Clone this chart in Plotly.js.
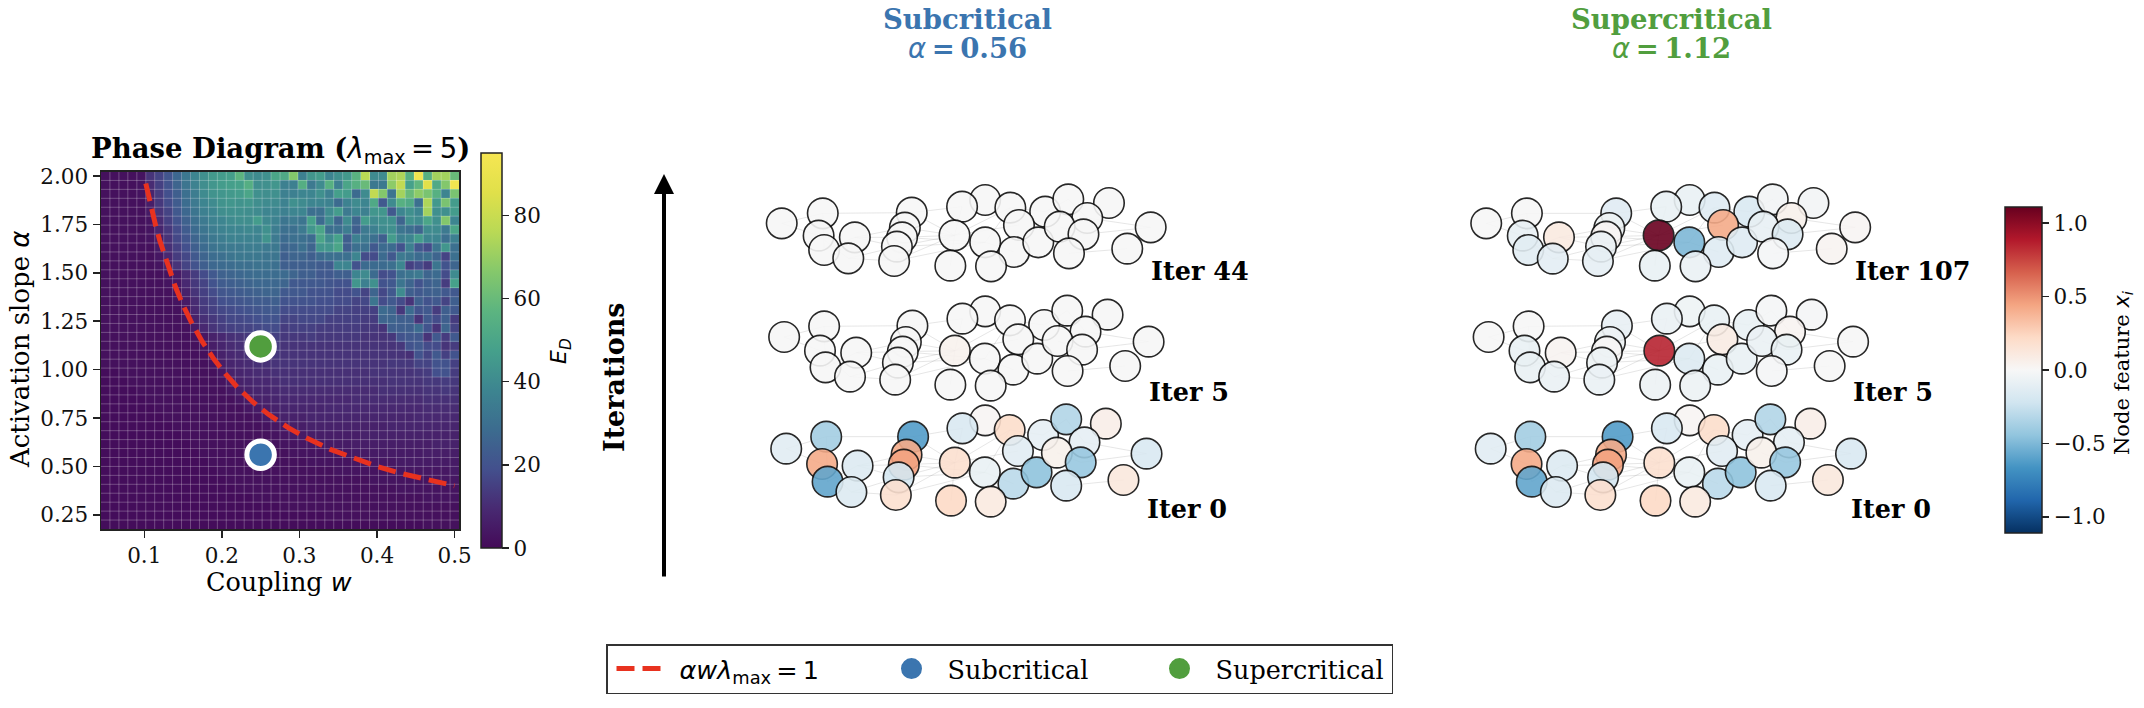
<!DOCTYPE html>
<html><head><meta charset="utf-8">
<script src="https://cdn.plot.ly/plotly-3.0.1.min.js"></script>
<style>html,body{margin:0;padding:0;background:#fff}</style>
</head><body><div id="chart" style="width:2144px;height:708px"></div>
<script>
const couplingW=[0.0500,0.0615,0.0731,0.0846,0.0962,0.1077,0.1192,0.1308,0.1423,0.1538,0.1654,0.1769,0.1885,0.2000,0.2115,0.2231,0.2346,0.2462,0.2577,0.2692,0.2808,0.2923,0.3038,0.3154,0.3269,0.3385,0.3500,0.3615,0.3731,0.3846,0.3962,0.4077,0.4192,0.4308,0.4423,0.4538,0.4654,0.4769,0.4885,0.5000];
const slopeAlpha=[2.0000,1.9538,1.9077,1.8615,1.8154,1.7692,1.7231,1.6769,1.6308,1.5846,1.5385,1.4923,1.4462,1.4000,1.3538,1.3077,1.2615,1.2154,1.1692,1.1231,1.0769,1.0308,0.9846,0.9385,0.8923,0.8462,0.8000,0.7538,0.7077,0.6615,0.6154,0.5692,0.5231,0.4769,0.4308,0.3846,0.3385,0.2923,0.2462,0.2000];
const energy=[
[2,2,2,2,3,12,16,21,27,33,38,42,45,46,47,57,42,40,42,50,52,66,36,44,46,38,42,45,56,76,40,40,72,74,55,93,55,72,72,60],
[2,2,2,2,3,10,15,20,26,32,37,41,44,46,47,48,54,41,42,44,36,36,54,34,40,55,36,50,55,60,33,33,68,78,48,58,86,52,66,93],
[2,2,2,2,3,8,14,19,24,30,35,40,43,44,45,46,50,42,41,42,36,36,38,38,42,36,47,46,28,40,78,66,32,72,60,68,64,55,38,64],
[2,2,2,2,2,6,13,18,23,29,34,38,40,43,44,43,44,41,40,40,37,42,40,38,38,37,28,37,40,38,52,22,40,55,52,30,74,45,64,46],
[2,2,2,2,2,5,12,16,22,27,32,36,38,41,42,42,41,40,38,38,36,38,38,30,30,40,46,34,38,36,44,44,22,38,42,38,72,42,42,46],
[2,2,2,2,2,3,10,15,20,25,30,34,37,38,40,41,41,46,39,37,32,34,32,48,28,40,26,40,26,46,40,42,42,26,42,40,50,42,66,38],
[2,2,2,2,2,3,8,13,18,23,28,32,35,37,38,38,39,38,42,35,30,30,34,44,50,30,30,35,24,34,36,40,42,32,30,26,40,40,34,50],
[2,2,2,2,2,3,6,12,17,21,26,30,33,35,37,37,37,37,43,34,28,30,30,28,50,40,48,24,36,34,30,24,46,36,38,46,38,38,30,36],
[2,2,2,2,2,2,5,11,15,19,24,28,31,33,34,34,35,35,34,33,26,27,30,26,44,44,50,24,30,30,22,28,28,20,36,22,18,32,44,30],
[2,2,2,2,2,2,4,9,14,17,22,26,29,30,32,33,33,33,32,32,24,26,26,24,28,30,30,30,38,18,18,28,22,34,32,28,30,26,16,30],
[2,2,2,2,2,2,3,7,12,16,20,24,27,28,29,30,30,31,31,30,24,24,24,24,23,23,38,38,20,28,28,28,30,38,15,18,14,32,20,26],
[2,2,2,2,2,2,2,3,5,10,14,18,22,25,26,27,28,29,29,29,28,26,24,24,22,22,24,24,38,40,28,18,20,30,32,34,26,28,18,40],
[2,2,2,2,2,2,2,3,4,9,13,16,20,23,24,25,26,27,27,27,26,22,22,22,22,21,20,20,44,36,42,20,22,32,26,20,24,26,14,48],
[2,2,2,2,2,2,2,2,3,7,12,15,18,21,22,23,24,25,26,26,22,22,22,20,20,20,18,18,20,16,26,17,22,40,24,22,24,25,22,22],
[2,2,2,2,2,2,2,2,3,5,10,14,16,19,20,21,22,23,23,24,20,20,20,20,19,19,18,18,16,17,32,18,22,18,12,24,20,22,16,24],
[2,2,2,2,2,2,2,2,2,4,9,13,15,17,18,19,20,21,22,22,18,18,18,18,18,18,16,16,15,15,15,28,26,13,28,20,22,14,24,22],
[2,2,2,2,2,2,2,2,2,3,7,11,13,15,17,17,18,19,20,20,16,16,17,17,17,15,15,15,15,14,14,26,26,24,24,12,22,18,24,14],
[2,2,2,2,2,2,2,2,2,2,5,9,12,14,15,16,16,17,18,18,14,15,15,15,14,14,14,14,14,13,13,12,24,24,24,28,20,12,26,16],
[2,2,2,2,2,2,2,2,2,2,2,4,7,9,11,12,13,14,14,15,13,13,13,14,13,13,13,13,13,12,12,12,13,20,22,22,12,22,14,22],
[2,2,2,2,2,2,2,2,2,2,2,3,6,8,10,11,12,13,13,14,12,12,12,12,12,12,12,12,12,12,12,12,12,13,20,22,18,18,12,14],
[2,2,2,2,2,2,2,2,2,2,2,2,4,7,9,10,11,12,12,13,12,12,12,12,12,12,12,12,12,12,12,12,12,12,11,20,16,22,15,20],
[2,2,2,2,2,2,2,2,2,2,2,2,3,6,8,9,10,11,11,12,12,12,12,12,12,12,12,12,12,12,12,12,13,13,13,16,16,20,20,15],
[1,1,2,2,2,2,2,2,2,2,2,2,2,4,7,8,9,10,10,11,11,11,11,11,11,11,11,11,11,11,12,12,12,12,12,13,14,19,20,14],
[1,1,1,2,2,2,2,2,2,2,2,2,2,3,5,7,8,9,9,10,11,11,11,11,11,11,11,11,11,11,11,11,12,12,12,12,13,13,14,13],
[1,1,1,1,2,2,2,2,2,2,2,2,2,2,4,6,7,8,8,9,10,10,10,10,10,10,10,10,10,10,10,11,11,11,11,11,12,12,13,12],
[1,1,1,1,1,2,2,2,2,2,2,2,2,2,2,4,5,7,7,8,9,9,9,9,9,9,9,9,10,10,10,10,10,10,10,10,11,11,11,11],
[1,1,1,1,1,1,2,2,2,2,2,2,2,2,2,2,4,5,6,7,8,8,8,8,8,9,9,9,9,9,9,9,9,9,9,9,10,10,10,10],
[1,1,1,1,1,1,1,2,2,2,2,2,2,2,2,2,2,3,5,6,7,7,7,8,8,8,8,8,8,8,8,8,8,8,8,9,9,9,9,9],
[1,1,1,1,1,1,1,1,2,2,2,2,2,2,2,2,2,2,3,4,5,6,6,7,7,7,7,7,7,7,7,7,8,8,8,8,8,8,8,8],
[1,1,1,1,1,1,1,1,1,2,2,2,2,2,2,2,2,2,2,3,4,5,5,6,6,6,6,6,6,7,7,7,7,7,7,7,7,7,7,7],
[1,1,1,1,1,1,1,1,1,1,2,2,2,2,2,2,2,2,2,2,3,3,4,4,5,5,5,5,6,6,6,6,6,6,6,6,6,7,7,7],
[1,1,1,1,1,1,1,1,1,1,1,2,2,2,2,2,2,2,2,2,2,3,3,3,3,4,4,4,5,5,5,5,5,5,5,5,6,6,6,6],
[1,1,1,1,1,1,1,1,1,1,1,1,2,2,2,2,2,2,2,2,2,2,2,3,3,3,3,3,4,4,4,4,4,5,5,5,5,5,5,5],
[1,1,1,1,1,1,1,1,1,1,1,1,1,2,2,2,2,2,2,2,2,2,2,2,2,2,3,3,3,3,3,3,3,4,4,4,4,4,4,5],
[1,1,1,1,1,1,1,1,1,1,1,1,1,1,2,2,2,2,2,2,2,2,2,2,2,2,2,2,2,2,3,3,3,3,3,3,3,4,4,4],
[1,1,1,1,1,1,1,1,1,1,1,1,1,1,1,2,2,2,2,2,2,2,2,2,2,2,2,2,2,2,2,2,2,3,3,3,3,3,3,3],
[1,1,1,1,1,1,1,1,1,1,1,1,1,1,1,1,1,2,2,2,2,2,2,2,2,2,2,2,2,2,2,2,2,2,2,2,3,3,3,3],
[1,1,1,1,1,1,1,1,1,1,1,1,1,1,1,1,1,1,1,1,2,2,2,2,2,2,2,2,2,2,2,2,2,2,2,2,2,2,2,2],
[1,1,1,1,1,1,1,1,1,1,1,1,1,1,1,1,1,1,1,1,1,1,1,1,1,2,2,2,2,2,2,2,2,2,2,2,2,2,2,2],
[1,1,1,1,1,1,1,1,1,1,1,1,1,1,1,1,1,1,1,1,1,1,1,1,1,1,1,1,1,1,1,1,1,1,1,1,2,2,2,2]
];
const curveW=[0.102,0.105,0.110,0.115,0.120,0.130,0.140,0.150,0.160,0.175,0.190,0.205,0.220,0.240,0.260,0.285,0.310,0.340,0.370,0.400,0.430,0.465,0.500];
const curveA=[1.961,1.905,1.818,1.739,1.667,1.538,1.429,1.333,1.250,1.143,1.053,0.976,0.909,0.833,0.769,0.702,0.645,0.588,0.541,0.500,0.465,0.430,0.400];
const pointW=[0.25,0.25];
const pointA=[0.56,1.12];
const pointColors=['#3b75af','#519e3e'];
const phaseNames=['Subcritical','Supercritical'];

const subIter44X=[121,240,228,333,244,314,498,478,470,455,447,644,711,784,622,711,610,728,795,809,885,865,927,952,1007,996,954,1070,1191,1123];
const subIter44Y=[190,160,227,232,270,295,158,203,232,260,303,140,120,143,226,247,317,319,276,195,155,247,200,118,174,223,280,129,202,266];
const subIter44V=[0,0,0,0,0,0,0,0,0,0,0,0,0,0,0,0,0,0,0,0,0,0,0,0,0,0,0,0,0,0];
const subIter5X=[128,244,232,337,248,319,500,481,472,458,450,645,711,783,623,710,610,727,793,807,882,862,921,949,1002,992,950,1066,1185,1117];
const subIter5Y=[531,499,572,578,622,650,497,546,575,608,659,476,454,481,572,596,674,677,629,538,495,596,543,452,515,569,633,464,545,618];
const subIter5V=[0,0,0,0,0,0,0,0,0,0,0,0,0,0,0.04,0,0,0,0,0,0,0,0,0,0,0,0,0,0,0];
const subIter0X=[134,250,238,341,254,323,502,483,475,460,452,645,711,782,623,710,612,727,793,806,879,860,919,946,999,988,946,1061,1179,1112];
const subIter0Y=[866,830,912,917,965,996,830,884,914,952,1005,805,781,810,908,937,1022,1025,971,873,825,937,878,778,847,907,977,791,881,960];
const iter0V=[-0.12,-0.38,0.42,-0.15,-0.58,-0.15,-0.62,0.42,0.45,-0.2,0.18,-0.17,0.02,0.2,0.18,-0.08,0.22,0.1,-0.3,-0.12,-0.1,-0.45,0.05,-0.33,-0.1,-0.42,-0.17,0.07,-0.17,0.12];
const supIter107X=[134,252,240,345,256,327,511,491,482,467,458,656,724,796,634,723,623,741,808,821,897,876,938,965,1019,1008,966,1083,1204,1136];
const supIter107Y=[190,160,227,232,270,296,160,204,230,260,303,140,120,143,226,247,317,319,276,195,155,247,200,118,174,223,280,129,202,266];
const supIter107V=[0,0,-0.09,0.1,-0.12,-0.11,-0.13,-0.05,0.02,-0.07,-0.1,-0.08,-0.08,-0.14,1.1,-0.5,-0.08,-0.07,-0.14,0.42,-0.17,-0.14,-0.09,-0.03,0.05,-0.15,-0.01,-0.03,0.02,0.03];
const supIter5X=[141,257,245,350,261,331,513,493,484,470,462,658,724,795,636,723,624,740,806,819,895,875,934,961,1015,1005,962,1078,1198,1130];
const supIter5Y=[531,499,572,578,622,650,497,546,575,608,659,476,454,481,572,596,674,677,629,538,495,596,543,452,515,569,633,464,545,618];
const supIter5V=[0,0,-0.08,0.03,-0.08,-0.07,-0.09,-0.05,0.01,-0.05,-0.07,-0.07,-0.05,-0.08,0.85,-0.15,-0.06,-0.06,-0.08,0.09,-0.08,-0.08,-0.07,-0.01,0.03,-0.08,-0.01,-0.01,0,0];
const supIter0X=[147,262,251,354,266,336,515,496,487,473,465,658,724,794,636,723,625,740,806,818,892,872,932,958,1012,1001,959,1074,1192,1125];
const supIter0Y=[866,830,912,917,965,996,830,884,914,952,1005,805,781,810,908,937,1022,1025,971,873,825,937,878,778,847,907,977,791,881,960];

const drawOrder=[0,1,3,2,4,5,6,7,8,9,10,12,11,13,20,23,27,24,15,14,16,19,18,17,21,22,25,26,28,29];
const edgeFrom=[0,0,1,1,3,3,3,5,5,6,6,7,8,9,10,10,9,8,14,14,15,15,14,25,26,24,16,20,22,23,13,2,4];
const edgeTo=[1,2,6,4,9,8,7,9,10,14,11,14,14,14,14,15,15,15,19,13,13,18,11,28,29,28,14,23,25,24,20,5,3];

const rdbuScale=[[0,'#053061'],[0.1,'#2166ac'],[0.2,'#4393c3'],[0.3,'#92c5de'],[0.4,'#d1e5f0'],[0.5,'#f7f7f7'],[0.6,'#fddbc7'],[0.7,'#f4a582'],[0.8,'#d6604d'],[0.9,'#b2182b'],[1,'#67001f']];
const viridisSoft=[[0,'#440a58'],[0.1,'#482a72'],[0.2,'#43508d'],[0.3,'#3c6c8f'],[0.4,'#3d8590'],[0.5,'#45a08b'],[0.6,'#5cb480'],[0.7,'#85c86b'],[0.8,'#b9d955'],[0.9,'#e0e04a'],[1,'#f6e652']];
const SERIF='"DejaVu Serif", serif';
const W=2144,H=708;
const pxX=v=>v/W, pxY=v=>1-v/H;
const SPAN=s=>`<span style="font-family:'DejaVu Sans'">${s}</span>`;
const traces=[];
traces.push({type:'heatmap',x:couplingW,y:slopeAlpha,z:energy,colorscale:viridisSoft,zmin:0,zmax:95,xaxis:'x',yaxis:'y',hoverinfo:'skip',
  colorbar:{x:pxX(481),xanchor:'left',y:pxY(350.5),yanchor:'middle',xpad:0,ypad:0,thickness:21,thicknessmode:'pixels',len:395,lenmode:'pixels',ticks:'outside',ticklen:7,tickwidth:1.5,tickcolor:'#222',outlinewidth:1.5,outlinecolor:'#222',tick0:0,dtick:20,tickfont:{family:SERIF,size:21.5,color:'#111'}}});
const stepW=couplingW[1]-couplingW[0], stepA=slopeAlpha[0]-slopeAlpha[1];
const wEdges=couplingW.map(v=>v-stepW/2), aEdges=slopeAlpha.map(v=>v+stepA/2);
const xMin=wEdges[0], xMax=couplingW[39]+stepW/2, yMax=aEdges[0], yMin=slopeAlpha[39]-stepA/2;
const gx=[],gy=[];
wEdges.slice(1).forEach(v=>{gx.push(v,v,null);gy.push(yMin,yMax,null);});
aEdges.slice(1).forEach(v=>{gx.push(xMin,xMax,null);gy.push(v,v,null);});
traces.push({type:'scatter',mode:'lines',x:gx,y:gy,xaxis:'x',yaxis:'y',line:{color:'rgba(255,255,255,0.25)',width:1},hoverinfo:'skip',showlegend:false});
traces.push({type:'scatter',mode:'lines',x:curveW,y:curveA,xaxis:'x',yaxis:'y',line:{color:'#e8321f',width:5,dash:'18px,8px'},hoverinfo:'skip',showlegend:false});
traces.push({type:'scatter',mode:'markers',x:pointW,y:pointA,xaxis:'x',yaxis:'y',marker:{size:27.5,color:pointColors,line:{color:'#fff',width:5}},hoverinfo:'skip',showlegend:false});
traces.push({type:'scatter',mode:'lines',x:[null],y:[null],xaxis:'x',yaxis:'y',name:SPAN('<i>αwλ</i><sub>max</sub>\u2009=\u20091'),line:{color:'#e8321f',width:5,dash:'0px,4px,18px,8px,18px,60px'},showlegend:true,legendrank:1});
phaseNames.forEach((n,i)=>traces.push({type:'scatter',mode:'markers',x:[null],y:[null],xaxis:'x',yaxis:'y',name:n,marker:{size:16,color:pointColors[i],line:{color:pointColors[i],width:5}},showlegend:true,legendrank:i+2,legendwidth:i===1?171:undefined}));

function panel(xs,ys,vs,xa,ya){
  const ex=[],ey=[];
  edgeFrom.forEach((a,i)=>{const b=edgeTo[i];ex.push(xs[a],xs[b],null);ey.push(ys[a],ys[b],null);});
  traces.push({type:'scatter',mode:'lines',x:ex,y:ey,xaxis:xa,yaxis:ya,line:{color:'rgba(130,130,130,0.2)',width:1},hoverinfo:'skip',showlegend:false,cliponaxis:false});
  traces.push({type:'scatter',mode:'markers',x:drawOrder.map(k=>xs[k]),y:drawOrder.map(k=>ys[k]),xaxis:xa,yaxis:ya,cliponaxis:false,showlegend:false,hoverinfo:'skip',
    marker:{size:30.5,color:drawOrder.map(k=>vs[k]),coloraxis:'coloraxis',opacity:0.9,line:{color:'#111',width:1.6}}});
}
panel(subIter44X,subIter44Y,subIter44V,'x2','y2');
panel(subIter5X,subIter5Y,subIter5V,'x2','y2');
panel(subIter0X,subIter0Y,iter0V,'x2','y2');
panel(supIter107X,supIter107Y,supIter107V,'x3','y3');
panel(supIter5X,supIter5Y,supIter5V,'x3','y3');
panel(supIter0X,supIter0Y,iter0V,'x3','y3');

const txt=(text,x,y,size,opt={})=>Object.assign({text,x:pxX(x),y:pxY(y),xref:'paper',yref:'paper',showarrow:false,xanchor:'center',yanchor:'middle',font:{family:SERIF,size,color:'#000'}},opt);
const iterLabel=(text,x,y,xr,yr)=>({text:'<b>'+text+'</b>',x,y,xref:xr,yref:yr,showarrow:false,xanchor:'left',yanchor:'middle',font:{family:SERIF,size:25.5,color:'#000'}});
const annotations=[
  txt('<b>Phase Diagram (</b>'+SPAN('<i>λ</i><sub>max</sub>\u2009=\u20095')+'<b>)</b>',280,150,27.5),
  txt('Coupling '+SPAN('<i>w</i>'),279,582,25.5),
  txt('Activation slope '+SPAN('<i>α</i>'),20,350,26,{textangle:-90}),
  txt(SPAN('<i>E</i><sub><i>D</i></sub>'),560,351,22,{textangle:-90}),
  txt('Node feature '+SPAN('<i>x</i><sub><i>i</i></sub>'),2123,373,21,{textangle:-90}),
  txt('<b>Iterations</b>',615,377,27,{textangle:-90}),
  txt('<b>Subcritical</b>',967,19,27.5,{font:{family:SERIF,size:27.5,color:'#3b75af'}}),
  txt(SPAN('<i>α</i>')+'<b>\u2009=\u20090.56</b>',967,48,27.5,{font:{family:SERIF,size:27.5,color:'#3b75af'}}),
  txt('<b>Supercritical</b>',1671,19,27.5,{font:{family:SERIF,size:27.5,color:'#519e3e'}}),
  txt(SPAN('<i>α</i>')+'<b>\u2009=\u20091.12</b>',1671,48,27.5,{font:{family:SERIF,size:27.5,color:'#519e3e'}}),
  iterLabel('Iter 44',1186,334,'x2','y2'),iterLabel('Iter 5',1181,695,'x2','y2'),iterLabel('Iter 0',1175,1047,'x2','y2'),
  iterLabel('Iter 107',1199,334,'x3','y3'),iterLabel('Iter 5',1193,695,'x3','y3'),iterLabel('Iter 0',1186,1047,'x3','y3'),
  {x:pxX(664),y:pxY(174),xref:'paper',yref:'paper',ax:pxX(664),ay:pxY(578),axref:'paper',ayref:'paper',showarrow:true,arrowhead:2,arrowsize:1,arrowwidth:4,arrowcolor:'#000',text:''}
];
const hidden={visible:false,fixedrange:true};
const tickF={family:SERIF,size:21.5,color:'#111'};
const layout={
  width:W,height:H,autosize:false,margin:{l:0,r:0,t:0,b:0},paper_bgcolor:'#fff',plot_bgcolor:'#fff',
  xaxis:{domain:[pxX(101),pxX(459)],range:[xMin,xMax],anchor:'y',tickvals:[0.1,0.2,0.3,0.4,0.5],tickformat:'.1f',ticks:'outside',ticklen:7,tickwidth:1.5,tickcolor:'#222',showline:true,linecolor:'#222',linewidth:1.5,mirror:true,showgrid:false,zeroline:false,tickfont:tickF},
  yaxis:{domain:[pxY(529),pxY(171.5)],range:[yMin,yMax],anchor:'x',tickvals:[0.25,0.5,0.75,1,1.25,1.5,1.75,2],tickformat:'.2f',ticks:'outside',ticklen:7,tickwidth:1.5,tickcolor:'#222',showline:true,linecolor:'#222',linewidth:1.5,mirror:true,showgrid:false,zeroline:false,tickfont:tickF},
  xaxis2:Object.assign({domain:[pxX(740),pxX(1280)],range:[0,1566],anchor:'y2'},hidden),
  yaxis2:Object.assign({domain:[pxY(560),pxY(160)],range:[1200,0],anchor:'x2'},hidden),
  xaxis3:Object.assign({domain:[pxX(1440),pxX(1980)],range:[0,1566],anchor:'y3'},hidden),
  yaxis3:Object.assign({domain:[pxY(560),pxY(160)],range:[1200,0],anchor:'x3'},hidden),
  coloraxis:{colorscale:rdbuScale,cmin:-1.11,cmax:1.11,colorbar:{x:pxX(2005),xanchor:'left',y:pxY(370),yanchor:'middle',xpad:0,ypad:0,thickness:37,thicknessmode:'pixels',len:326,lenmode:'pixels',ticks:'outside',ticklen:7,tickwidth:1.5,tickcolor:'#222',outlinewidth:1.5,outlinecolor:'#222',tickvals:[-1,-0.5,0,0.5,1],ticktext:['−1.0','−0.5','0.0','0.5','1.0'],tickfont:tickF}},
  showlegend:true,
  legend:{orientation:'h',x:pxX(606),y:pxY(644),xanchor:'left',yanchor:'top',bgcolor:'#fff',bordercolor:'#333',borderwidth:1.5,itemwidth:62,entrywidth:191,entrywidthmode:'pixels',tracegroupgap:0,font:{family:SERIF,size:25.5,color:'#000'},traceorder:'normal'},
  annotations
};
Plotly.newPlot('chart',traces,layout,{displayModeBar:false,staticPlot:true});
</script></body></html>
